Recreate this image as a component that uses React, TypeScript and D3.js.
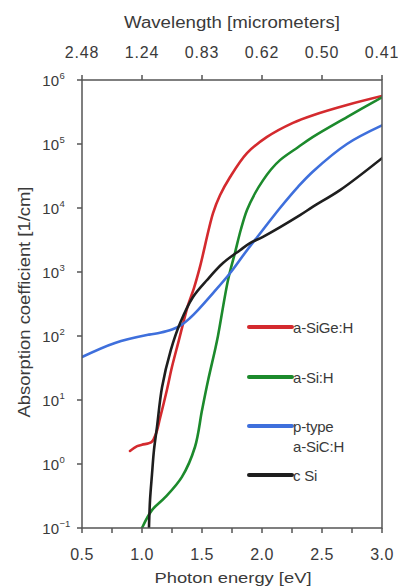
import React from "react";
import * as d3 from "d3";

const energyTicks = [0.5, 1.0, 1.5, 2.0, 2.5, 3.0];
const wavelengthLabels = ["2.48", "1.24", "0.83", "0.62", "0.50", "0.41"];
const yExponents = [-1, 0, 1, 2, 3, 4, 5, 6];

const sigeE = [0.9, 0.96, 1.0, 1.08, 1.117, 1.15, 1.208, 1.25, 1.308, 1.35, 1.383, 1.433, 1.483, 1.592, 1.65, 1.733, 1.875, 2.042, 2.258, 2.425, 2.708, 3.0];
const sigeA = [1.6, 1.9, 2.0, 2.2, 3.0, 5.2, 14.5, 33, 87, 178, 300, 560, 1200, 8300, 15800, 30200, 72000, 129000, 214000, 282000, 407000, 562000];

const asiE = [1.0, 1.083, 1.192, 1.333, 1.442, 1.5, 1.55, 1.608, 1.633, 1.717, 1.775, 1.825, 1.875, 1.942, 2.008, 2.075, 2.15, 2.3, 2.425, 2.708, 3.0];
const asiA = [0.1, 0.19, 0.3, 0.63, 1.86, 6.9, 20, 60, 100, 750, 2000, 4700, 9300, 17000, 27000, 40000, 56000, 89000, 129000, 263000, 537000];

const sicE = [0.5, 0.775, 1.058, 1.15, 1.25, 1.333, 1.4, 1.458, 1.592, 1.733, 1.875, 2.008, 2.15, 2.3, 2.425, 2.708, 3.0];
const sicA = [47, 78, 105, 112, 126, 151, 191, 245, 468, 955, 2190, 4570, 10000, 21400, 37200, 100000, 195000];

const csiE = [1.058, 1.067, 1.083, 1.1, 1.125, 1.167, 1.24, 1.317, 1.425, 1.542, 1.675, 1.817, 1.9, 2.008, 2.317, 2.425, 2.65, 3.0];
const csiA = [0.1, 0.275, 0.68, 1.66, 3.8, 15.8, 60, 158, 407, 750, 1380, 2190, 2820, 3550, 7760, 10500, 19000, 60000];

const seriesNames = ["a-SiGe:H", "a-Si:H", "p-type", "c Si"];
const seriesColors = ["#d42a2e", "#1c8a2c", "#3e6fdc", "#1e1e1e"];

export default function App() {
  const W = 398, H = 586;
  const L = 82, R = 382, T = 80, B = 528;
  const x = d3.scaleLinear().domain([0.5, 3.0]).range([L, R]);
  const y = d3.scaleLog().domain([0.1, 1e6]).range([B, T]);
  const line = d3.line<[number, number]>().x(d => x(d[0])).y(d => y(d[1])).curve(d3.curveCatmullRom.alpha(0.5));
  const zip = (e: number[], a: number[]) => e.map((v, i) => [v, a[i]] as [number, number]);
  const series = [zip(sigeE, sigeA), zip(asiE, asiA), zip(sicE, sicA), zip(csiE, csiA)];
  const minorX = d3.range(0.5, 3.01, 0.25);
  const axisColor = "#555";
  const textColor = "#3a3a3a";
  const font = "'Liberation Sans', Arial, sans-serif";
  const legendY = [327, 377, 426, 475];

  return (
    <svg width={W} height={H} style={{ position: "absolute", left: 0, top: 0, background: "#fff" }} fontFamily={font}>
      <defs>
        <clipPath id="plot"><rect x={L} y={T} width={R - L} height={B - T} /></clipPath>
      </defs>
      <g clipPath="url(#plot)">
        {series.map((s, i) => (
          <path key={i} d={line(s) || ""} fill="none" stroke={seriesColors[i]} strokeWidth={2.6} strokeLinejoin="round" strokeLinecap="round" />
        ))}
      </g>
      <rect x={L} y={T} width={R - L} height={B - T} fill="none" stroke={axisColor} strokeWidth={1.5} />
      {minorX.map((v, i) => (
        <line key={"bx" + i} x1={x(v)} x2={x(v)} y1={B} y2={B + 5} stroke={axisColor} strokeWidth={1.5} />
      ))}
      {energyTicks.map((v, i) => (
        <text key={"bl" + i} x={x(v)} y={560} textAnchor="middle" fontSize={16} fill={textColor} letterSpacing={0.5}>{v.toFixed(1)}</text>
      ))}
      {energyTicks.map((v, i) => (
        <line key={"tx" + i} x1={x(v)} x2={x(v)} y1={T} y2={T - 5} stroke={axisColor} strokeWidth={1.5} />
      ))}
      {energyTicks.map((v, i) => (
        <text key={"tl" + i} x={x(v)} y={58} textAnchor="middle" fontSize={16} fill={textColor} letterSpacing={0.8}>{wavelengthLabels[i]}</text>
      ))}
      {yExponents.map((p, i) => (
        <g key={"y" + i}>
          <line x1={L - 5} x2={L} y1={y(Math.pow(10, p))} y2={y(Math.pow(10, p))} stroke={axisColor} strokeWidth={1.5} />
          <text x={59} y={y(Math.pow(10, p)) + 6} textAnchor="end" fontSize={15} fill={textColor}>10</text>
          <text x={59.5} y={y(Math.pow(10, p)) - 1} textAnchor="start" fontSize={9.5} fill={textColor}>{p < 0 ? "\u2212" + Math.abs(p) : String(p)}</text>
        </g>
      ))}
      <text x={232} y={28} textAnchor="middle" fontSize={16} fill={textColor} textLength={216} lengthAdjust="spacingAndGlyphs">Wavelength [micrometers]</text>
      <text x={233} y={583} textAnchor="middle" fontSize={15} fill={textColor} textLength={157} lengthAdjust="spacingAndGlyphs">Photon energy [eV]</text>
      <text transform={`translate(30,302) rotate(-90)`} textAnchor="middle" fontSize={16} fill={textColor} textLength={231} lengthAdjust="spacingAndGlyphs">Absorption coefficient [1/cm]</text>
      {seriesNames.map((n, i) => (
        <g key={"lg" + i}>
          <line x1={249} x2={292} y1={legendY[i]} y2={legendY[i]} stroke={seriesColors[i]} strokeWidth={4} strokeLinecap="round" />
          <text x={293} y={legendY[i] + 6} fontSize={15} fill={textColor} letterSpacing={-0.2}>{n}</text>
        </g>
      ))}
      <text x={293} y={452} fontSize={15} fill={textColor} letterSpacing={-0.2}>a-SiC:H</text>
    </svg>
  );
}
